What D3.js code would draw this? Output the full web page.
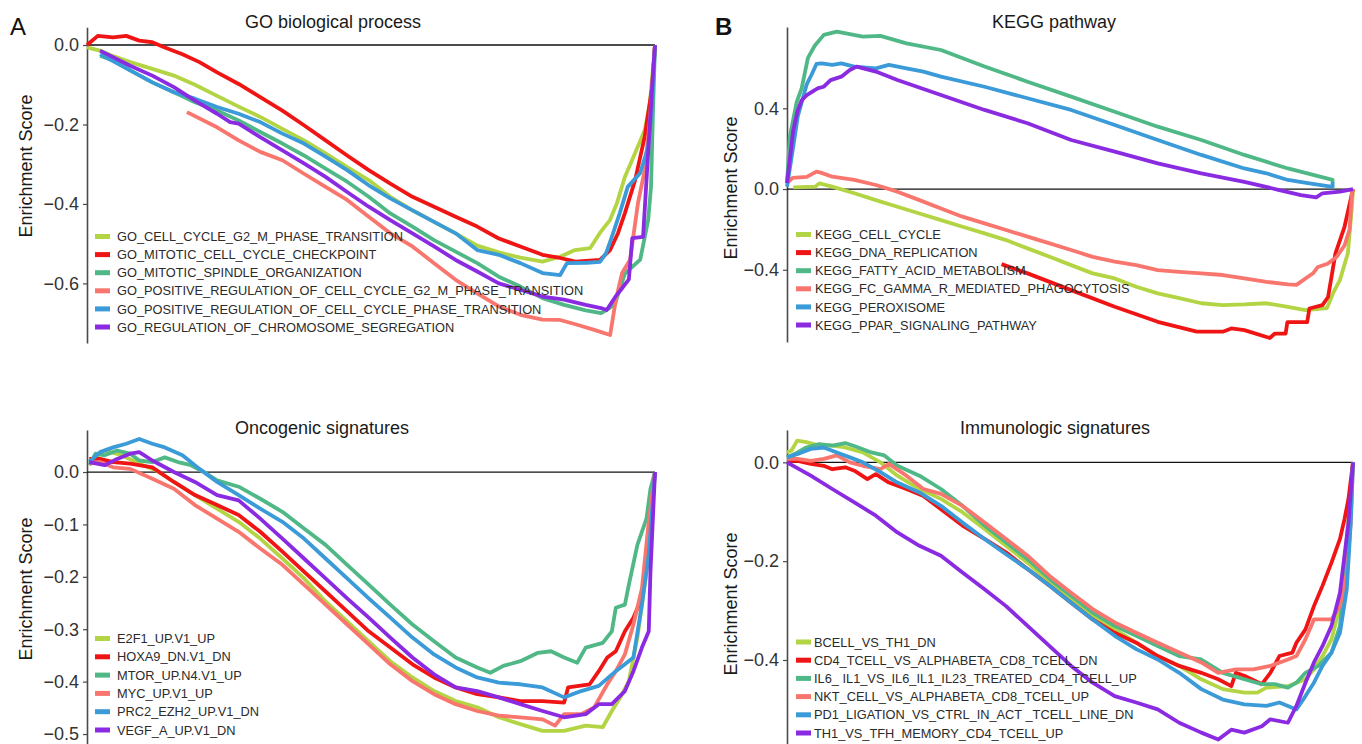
<!DOCTYPE html>
<html>
<head>
<meta charset="utf-8">
<script src="https://cdn.jsdelivr.net/npm/d3@7"></script>
<style>
  body { margin: 0; background: #fff; }
  svg text { font-family: "Liberation Sans", Arial, Helvetica, sans-serif; }
</style>
</head>
<body>
<div id="canvas"></div>
<script>
"use strict"

/* ---- data: [rank position (%), enrichment score] ---- */

// A: GO biological process
let goNames = ["GO_CELL_CYCLE_G2_M_PHASE_TRANSITION", "GO_MITOTIC_CELL_CYCLE_CHECKPOINT",
    "GO_MITOTIC_SPINDLE_ORGANIZATION", "GO_POSITIVE_REGULATION_OF_CELL_CYCLE_G2_M_PHASE_TRANSITION",
    "GO_POSITIVE_REGULATION_OF_CELL_CYCLE_PHASE_TRANSITION", "GO_REGULATION_OF_CHROMOSOME_SEGREGATION"];
let goG2M = [[0,-0.006],[2.3,-0.014],[4.6,-0.028],[7.6,-0.043],[11.5,-0.06],[15.3,-0.077],[19,-0.1],[22.9,-0.128],[26.7,-0.155],[30.5,-0.181],[34.4,-0.211],[38.2,-0.24],[42,-0.273],[45.8,-0.307],[49.6,-0.34],[53.4,-0.382],[57.3,-0.416],[61.1,-0.445],[64.9,-0.474],[68.7,-0.505],[72.5,-0.522],[76.3,-0.535],[80.2,-0.545],[83.3,-0.533],[85.9,-0.516],[88.6,-0.511],[90.3,-0.473],[92.1,-0.44],[93.3,-0.398],[94.7,-0.332],[96.5,-0.272],[98.2,-0.214],[99.1,-0.146],[100,0]];
let goCheckpoint = [[0,0],[1.9,0.023],[4.6,0.019],[6.9,0.023],[9.2,0.011],[11.5,0.007],[13.7,-0.006],[16.8,-0.023],[19.8,-0.043],[22.9,-0.069],[26.7,-0.098],[30.5,-0.131],[34.4,-0.165],[38.2,-0.202],[42,-0.24],[45.8,-0.278],[49.6,-0.315],[53.4,-0.349],[57.3,-0.382],[61.1,-0.407],[64.9,-0.432],[68.7,-0.457],[72.5,-0.487],[76.3,-0.507],[80.2,-0.528],[83.3,-0.536],[86,-0.545],[90.3,-0.541],[92.1,-0.516],[93.5,-0.473],[94.7,-0.423],[96.5,-0.34],[98.2,-0.23],[99.5,-0.105],[100,0]];
let goSpindle = [[2.3,-0.027],[4.6,-0.039],[7.6,-0.064],[11.5,-0.094],[15.3,-0.119],[19,-0.144],[22.9,-0.165],[26.7,-0.19],[30.5,-0.219],[34.4,-0.248],[38.2,-0.278],[42,-0.311],[45.8,-0.344],[49.6,-0.382],[53.4,-0.424],[57.3,-0.457],[61.1,-0.491],[64.9,-0.52],[68.7,-0.549],[72.5,-0.583],[76.3,-0.608],[80.2,-0.637],[84,-0.654],[87.8,-0.668],[90.5,-0.675],[92,-0.662],[93,-0.65],[94.7,-0.575],[97.4,-0.54],[98.8,-0.44],[99.3,-0.357],[99.6,-0.19],[100,0]];
let goPosG2M = [[17.6,-0.169],[22.9,-0.207],[26.7,-0.24],[30.5,-0.269],[34.4,-0.29],[38.2,-0.324],[42,-0.357],[45.8,-0.39],[49.6,-0.432],[53.4,-0.474],[57.3,-0.507],[61.1,-0.549],[64.9,-0.591],[68.7,-0.625],[72.5,-0.658],[76.3,-0.679],[80.2,-0.691],[83.3,-0.692],[86.3,-0.704],[89.3,-0.717],[92.1,-0.73],[93.1,-0.642],[94.2,-0.574],[95.6,-0.541],[97,-0.398],[98.2,-0.314],[99.1,-0.189],[100,0]];
let goPosPhase = [[2.3,-0.023],[7.6,-0.064],[11.5,-0.094],[15.3,-0.119],[19,-0.135],[22.9,-0.156],[26.7,-0.173],[30.5,-0.194],[34.4,-0.223],[38.2,-0.248],[42,-0.281],[45.8,-0.315],[49.6,-0.353],[53.4,-0.386],[57.3,-0.416],[61.1,-0.445],[64.9,-0.474],[68.7,-0.516],[72.5,-0.528],[76.3,-0.549],[80.2,-0.574],[83.3,-0.579],[84.5,-0.549],[88,-0.548],[90.3,-0.546],[91.4,-0.524],[92.4,-0.483],[93.8,-0.423],[95.2,-0.357],[97.4,-0.322],[98.8,-0.256],[99.5,-0.146],[100,0]];
let goChromSeg = [[2.3,-0.014],[7.6,-0.052],[11.5,-0.077],[15.3,-0.106],[19,-0.14],[22.9,-0.173],[25.2,-0.194],[26.7,-0.198],[30.5,-0.232],[34.4,-0.265],[38.2,-0.298],[42,-0.332],[45.8,-0.37],[49.6,-0.407],[53.4,-0.441],[57.3,-0.474],[61.1,-0.507],[64.9,-0.541],[68.7,-0.57],[72.5,-0.6],[76.3,-0.616],[80.2,-0.633],[84,-0.641],[87.8,-0.654],[90.5,-0.662],[91.5,-0.667],[93,-0.634],[94,-0.616],[95.4,-0.59],[96,-0.486],[97.9,-0.483],[98.8,-0.27],[99.5,-0.105],[100,0]];

// B: KEGG pathway
let keggNames = ["KEGG_CELL_CYCLE", "KEGG_DNA_REPLICATION", "KEGG_FATTY_ACID_METABOLISM",
    "KEGG_FC_GAMMA_R_MEDIATED_PHAGOCYTOSIS", "KEGG_PEROXISOME", "KEGG_PPAR_SIGNALING_PATHWAY"];
let keggCellCycle = [[1.1,0.008],[5,0.012],[5.7,0.028],[8,0.012],[11.9,-0.021],[15.7,-0.055],[19.5,-0.088],[23.4,-0.121],[27.2,-0.154],[31,-0.187],[34.9,-0.22],[38.7,-0.253],[42.5,-0.294],[46.4,-0.336],[50.2,-0.377],[54,-0.418],[57.9,-0.443],[61.7,-0.484],[65.5,-0.517],[69.3,-0.541],[73.2,-0.566],[77,-0.575],[80.8,-0.572],[84.7,-0.566],[88.5,-0.584],[91.6,-0.6],[95.4,-0.59],[96.5,-0.515],[97.7,-0.45],[99.1,-0.317],[99.8,-0.09],[100,0]];
let keggDnaRep = [[37.9,-0.372],[42.5,-0.418],[50.2,-0.501],[57.9,-0.583],[65.5,-0.658],[72.4,-0.707],[77,-0.707],[78.5,-0.691],[80.8,-0.699],[85.3,-0.738],[86.2,-0.716],[88.1,-0.716],[88.4,-0.66],[91.9,-0.66],[92.3,-0.592],[94.6,-0.575],[95.6,-0.535],[96.2,-0.435],[96.9,-0.319],[98.5,-0.187],[99.2,-0.1],[100,0]];
let keggFatty = [[0,0.03],[0.5,0.26],[1.7,0.43],[2.6,0.5],[3.7,0.65],[4.9,0.71],[6.5,0.764],[8.8,0.78],[13.4,0.755],[16.5,0.759],[21.1,0.722],[27.2,0.689],[34.9,0.607],[42.5,0.532],[50.2,0.458],[57.9,0.383],[65.5,0.309],[73.2,0.243],[80.8,0.169],[88.5,0.102],[96.4,0.045],[96.4,0.035]];
let keggFcGamma = [[0,0.03],[1,0.055],[3.5,0.06],[5.2,0.086],[6.1,0.08],[8,0.061],[11.9,0.045],[15.7,0.02],[19.5,-0.013],[23.4,-0.055],[27.2,-0.096],[31,-0.137],[34.9,-0.17],[38.7,-0.203],[42.5,-0.236],[46.4,-0.269],[50.2,-0.302],[54,-0.336],[57.9,-0.36],[61.7,-0.377],[65.5,-0.402],[69.3,-0.41],[73.2,-0.418],[77,-0.426],[80.8,-0.443],[84.7,-0.46],[88.5,-0.472],[90,-0.475],[93,-0.416],[93.8,-0.386],[95.5,-0.37],[97.1,-0.337],[98.5,-0.28],[99.4,-0.2],[99.8,-0.02],[100,0]];
let keggPerox = [[0,0.012],[1.1,0.21],[1.9,0.36],[2.6,0.43],[3.5,0.52],[4.4,0.57],[5.2,0.62],[6.1,0.623],[8,0.615],[9.6,0.623],[11.9,0.607],[15.7,0.598],[18,0.615],[21.1,0.598],[24.1,0.582],[27.2,0.557],[34.9,0.507],[42.5,0.45],[50.2,0.392],[57.9,0.317],[65.5,0.243],[73.2,0.169],[80.8,0.102],[84.7,0.078],[88.5,0.045],[92.3,0.028],[96.4,0.011],[96.4,0.035]];
let keggPpar = [[0,0.03],[1.1,0.29],[1.9,0.39],[2.6,0.44],[3.5,0.465],[4.9,0.49],[5.5,0.5],[6.5,0.507],[7.7,0.54],[9.6,0.557],[11.1,0.59],[12.3,0.607],[15.7,0.582],[19.5,0.54],[27.2,0.466],[34.9,0.392],[42.5,0.326],[50.2,0.243],[57.9,0.185],[65.5,0.127],[73.2,0.078],[80.8,0.036],[87,-0.005],[90.8,-0.03],[93.5,-0.041],[94.6,-0.021],[97.7,-0.013],[100,0]];

// C: Oncogenic signatures
let oncoNames = ["E2F1_UP.V1_UP", "HOXA9_DN.V1_DN", "MTOR_UP.N4.V1_UP", "MYC_UP.V1_UP",
    "PRC2_EZH2_UP.V1_DN", "VEGF_A_UP.V1_DN"];
let e2f1 = [[0.4,0.019],[3.1,0.041],[6.1,0.032],[9.2,0.016],[12.2,0.003],[15.3,-0.019],[19,-0.044],[22.9,-0.07],[26.7,-0.095],[30.5,-0.127],[34.4,-0.165],[38.2,-0.203],[42,-0.247],[45.8,-0.285],[49.6,-0.323],[53.4,-0.361],[57.3,-0.392],[61.1,-0.418],[64.9,-0.437],[68.7,-0.449],[72.5,-0.468],[76.3,-0.481],[80.2,-0.494],[84,-0.494],[87.8,-0.484],[90.8,-0.487],[92.4,-0.456],[93.9,-0.43],[95.4,-0.399],[96.9,-0.316],[98.5,-0.19],[99.2,-0.095],[100,0]];
let hoxa9 = [[0.4,0.025],[2.3,0.025],[4.6,0.019],[7.6,0.016],[11.5,0.009],[15.3,-0.019],[19,-0.044],[22.9,-0.063],[26.7,-0.082],[30.5,-0.114],[34.4,-0.152],[38.2,-0.19],[42,-0.228],[45.8,-0.266],[49.6,-0.304],[53.4,-0.335],[57.3,-0.367],[61.1,-0.392],[64.9,-0.411],[68.7,-0.424],[72.5,-0.43],[76.3,-0.437],[80.2,-0.437],[84,-0.44],[84.7,-0.411],[88.5,-0.405],[90.1,-0.38],[91.6,-0.354],[93.1,-0.342],[94.7,-0.304],[96.2,-0.278],[97.7,-0.24],[98.5,-0.177],[99.2,-0.063],[100,0]];
let mtor = [[0.4,0.013],[1.5,0.035],[3.1,0.032],[5.3,0.041],[7.6,0.035],[9.2,0.022],[11.5,0.019],[13.7,0.028],[16,0.019],[18.3,0.013],[20.6,0],[22.9,-0.016],[26.7,-0.028],[30.5,-0.051],[34.4,-0.076],[38.2,-0.108],[42,-0.139],[45.8,-0.177],[49.6,-0.215],[53.4,-0.253],[57.3,-0.291],[61.1,-0.323],[64.9,-0.354],[68.7,-0.373],[71,-0.383],[73.3,-0.37],[76.3,-0.361],[79.4,-0.345],[81.7,-0.342],[84,-0.354],[86.3,-0.364],[87.8,-0.335],[90.8,-0.326],[92.4,-0.304],[93.1,-0.259],[94.7,-0.253],[95.4,-0.215],[96.9,-0.139],[98.5,-0.089],[99.2,-0.032],[100,0]];
let myc = [[0.4,0.016],[2.3,0.019],[4.6,0.009],[7.6,0.006],[11.5,-0.013],[15.3,-0.032],[19,-0.063],[22.9,-0.089],[26.7,-0.114],[30.5,-0.146],[34.4,-0.177],[38.2,-0.215],[42,-0.253],[45.8,-0.291],[49.6,-0.329],[53.4,-0.367],[57.3,-0.399],[61.1,-0.424],[64.9,-0.443],[68.7,-0.456],[72.5,-0.465],[76.3,-0.468],[80.2,-0.472],[82.4,-0.484],[84,-0.462],[87,-0.462],[89.3,-0.449],[91.6,-0.405],[93.1,-0.38],[94.7,-0.348],[96.2,-0.291],[97.7,-0.222],[98.9,-0.095],[100,0]];
let prc2 = [[0.4,0.019],[2.3,0.038],[4.6,0.047],[6.9,0.054],[9.2,0.063],[11.5,0.054],[13.7,0.047],[16.8,0.032],[19.8,0.006],[22.9,-0.019],[26.7,-0.044],[30.5,-0.07],[34.4,-0.095],[38.2,-0.127],[42,-0.165],[45.8,-0.203],[49.6,-0.241],[53.4,-0.278],[57.3,-0.316],[61.1,-0.348],[64.9,-0.373],[68.7,-0.392],[72.5,-0.402],[76.3,-0.405],[80.2,-0.411],[84,-0.43],[87,-0.418],[90.1,-0.408],[93.1,-0.38],[94.7,-0.367],[96.2,-0.354],[97.7,-0.253],[98.9,-0.158],[100,0]];
let vegfa = [[0.4,0.019],[3.1,0.013],[5.3,0.025],[7.6,0.035],[9.2,0.038],[11.5,0.022],[15.3,0],[19,-0.019],[22.9,-0.044],[26.7,-0.054],[30.5,-0.089],[34.4,-0.127],[38.2,-0.165],[42,-0.203],[45.8,-0.241],[49.6,-0.278],[53.4,-0.316],[57.3,-0.354],[61.1,-0.386],[64.9,-0.411],[68.7,-0.418],[72.5,-0.43],[76.3,-0.443],[80.2,-0.456],[84,-0.468],[87.8,-0.462],[90.1,-0.443],[92.4,-0.443],[94.7,-0.418],[96.2,-0.38],[97.7,-0.335],[98.9,-0.304],[99.2,-0.19],[100,0]];

// D: Immunologic signatures
let immunoNames = ["BCELL_VS_TH1_DN", "CD4_TCELL_VS_ALPHABETA_CD8_TCELL_DN",
    "IL6_ IL1_VS_IL6_IL1_IL23_TREATED_CD4_TCELL_UP", "NKT_CELL_VS_ALPHABETA_CD8_TCELL_UP",
    "PD1_LIGATION_VS_CTRL_IN_ACT _TCELL_LINE_DN", "TH1_VS_TFH_MEMORY_CD4_TCELL_UP"];
let bcellTh1 = [[0,0.02],[0.8,0.024],[1.8,0.044],[3.4,0.041],[5.7,0.034],[8,0.034],[10.3,0.03],[13.4,0.02],[16.5,0],[19.5,-0.027],[23.4,-0.054],[27.2,-0.074],[31,-0.101],[34.9,-0.135],[38.7,-0.169],[42.5,-0.203],[46.4,-0.243],[50.2,-0.277],[54,-0.311],[57.9,-0.338],[61.7,-0.365],[65.5,-0.392],[69.3,-0.412],[73.2,-0.439],[77,-0.459],[80.8,-0.466],[83.1,-0.466],[84.7,-0.456],[88.5,-0.453],[91.6,-0.439],[93.1,-0.419],[94.6,-0.392],[96.2,-0.358],[97.7,-0.291],[98.9,-0.155],[100,0]];
let cd4Cd8 = [[0,0.003],[1.9,0.003],[4.2,-0.003],[6.5,-0.007],[8,-0.014],[10.3,-0.01],[11.9,-0.017],[14.2,-0.034],[15.7,-0.024],[18,-0.041],[21.1,-0.054],[24.1,-0.068],[27.2,-0.095],[31,-0.128],[34.9,-0.155],[38.7,-0.182],[42.5,-0.216],[46.4,-0.25],[50.2,-0.284],[54,-0.318],[57.9,-0.345],[61.7,-0.365],[65.5,-0.392],[69.3,-0.412],[73.2,-0.426],[76.2,-0.439],[78.5,-0.453],[79.3,-0.426],[80.8,-0.432],[83.9,-0.449],[85.4,-0.426],[87,-0.392],[89.3,-0.385],[90,-0.365],[91.6,-0.338],[93.1,-0.291],[94.6,-0.25],[96.2,-0.203],[97.7,-0.155],[98.5,-0.115],[99.2,-0.074],[100,0]];
let il6Il23 = [[0,0.01],[1.9,0.02],[3.4,0.03],[5.7,0.037],[8,0.034],[10.3,0.039],[12.6,0.03],[14.9,0.02],[17.2,0.014],[19.5,-0.007],[23.4,-0.027],[27.2,-0.054],[31,-0.088],[34.9,-0.128],[38.7,-0.162],[42.5,-0.196],[46.4,-0.236],[50.2,-0.27],[54,-0.304],[57.9,-0.331],[61.7,-0.351],[65.5,-0.372],[69.3,-0.392],[73.2,-0.399],[77,-0.426],[80.8,-0.439],[83.9,-0.449],[86.2,-0.449],[88.5,-0.456],[90,-0.446],[91.6,-0.426],[93.9,-0.412],[96.2,-0.385],[97.7,-0.331],[99.2,-0.155],[100,0]];
let nktCd8 = [[0,0.007],[1.9,0.007],[4.2,0.003],[6.5,0.007],[8.8,0.014],[11.1,0],[13.4,-0.007],[16.5,-0.014],[18,-0.003],[21.1,-0.027],[24.1,-0.054],[27.2,-0.064],[31,-0.088],[34.9,-0.122],[38.7,-0.155],[42.5,-0.189],[46.4,-0.23],[50.2,-0.264],[54,-0.297],[57.9,-0.324],[61.7,-0.345],[65.5,-0.365],[69.3,-0.385],[73.2,-0.405],[76.2,-0.426],[79.3,-0.419],[82.4,-0.419],[85.4,-0.412],[88.5,-0.399],[90,-0.392],[91.6,-0.358],[93.1,-0.318],[96.2,-0.318],[97.7,-0.291],[98.9,-0.223],[99.6,-0.122],[100,0]];
let pd1Ligation = [[0,0.01],[1.9,0.017],[4.2,0.027],[6.5,0.03],[8.8,0.02],[11.1,0.01],[13.4,0],[16.5,-0.02],[19.5,-0.041],[23.4,-0.061],[27.2,-0.088],[31,-0.122],[34.9,-0.155],[38.7,-0.186],[42.5,-0.216],[46.4,-0.25],[50.2,-0.284],[54,-0.318],[57.9,-0.351],[61.7,-0.378],[65.5,-0.399],[69.3,-0.426],[73.2,-0.459],[77,-0.48],[80.8,-0.49],[84.7,-0.493],[87,-0.486],[90,-0.5],[91.6,-0.473],[93.1,-0.446],[94.6,-0.412],[96.2,-0.385],[97.7,-0.345],[98.9,-0.257],[99.6,-0.122],[100,0]];
let th1Tfh = [[0,0],[4.2,-0.027],[8,-0.054],[11.9,-0.081],[15.7,-0.108],[19.5,-0.142],[23.4,-0.169],[27.2,-0.189],[31,-0.223],[34.9,-0.257],[38.7,-0.291],[42.5,-0.331],[46.4,-0.372],[50.2,-0.412],[54,-0.446],[57.9,-0.473],[61.7,-0.486],[65.5,-0.5],[69.3,-0.527],[73.2,-0.547],[76.2,-0.561],[78.5,-0.541],[80.8,-0.547],[83.9,-0.534],[85.4,-0.52],[88.5,-0.527],[90,-0.493],[91.6,-0.446],[93.1,-0.405],[94.6,-0.372],[96.2,-0.331],[97.7,-0.264],[99.2,-0.122],[100,0]];

let seriesColors = ["#b3d443", "#f01515", "#4fb886", "#f8766d", "#3b9ad8", "#8a2be2"];

/* ---- layout ---- */
let svgWidth = 1362;
let svgHeight = 744;

let panels = [
    { letter: "A", letterX: 10, letterBold: false, title: "GO biological process", titleX: 333, titleY: 28,
      left: 87, right: 655, top: 27.3, bottom: 343, yDomain: [-0.75, 0.0446], ticks: [0, -0.2, -0.4, -0.6],
      labelX: 26, labelY: 166, legendX: 95, textX: 117, legendY: 236.5, legendStep: 18.1,
      names: goNames, series: [goG2M, goCheckpoint, goSpindle, goPosG2M, goPosPhase, goChromSeg] },
    { letter: "B", letterX: 715, letterBold: true, title: "KEGG pathway", titleX: 1054, titleY: 28,
      left: 787, right: 1353, top: 27, bottom: 342, yDomain: [-0.758, 0.803], ticks: [-0.4, 0, 0.4],
      labelX: 731, labelY: 188, legendX: 796, textX: 815, legendY: 234.5, legendStep: 18.1,
      names: keggNames, series: [keggCellCycle, keggDnaRep, keggFatty, keggFcGamma, keggPerox, keggPpar] },
    { letter: null, title: "Oncogenic signatures", titleX: 322, titleY: 434,
      left: 87, right: 655, top: 430, bottom: 744, yDomain: [-0.519, 0.0802], ticks: [0, -0.1, -0.2, -0.3, -0.4, -0.5],
      labelX: 26, labelY: 589, legendX: 95, textX: 117, legendY: 638.5, legendStep: 18.3,
      names: oncoNames, series: [e2f1, hoxa9, mtor, myc, prc2, vegfa] },
    { letter: null, title: "Immunologic signatures", titleX: 1055, titleY: 434,
      left: 787, right: 1353, top: 430, bottom: 744, yDomain: [-0.57, 0.0654], ticks: [0, -0.2, -0.4],
      labelX: 731, labelY: 604, legendX: 796, textX: 814, legendY: 642, legendStep: 18.2,
      names: immunoNames, series: [bcellTh1, cd4Cd8, il6Il23, nktCd8, pd1Ligation, th1Tfh] }
];

let svg = d3.select("#canvas")
    .append("svg")
    .attr("width", svgWidth)
    .attr("height", svgHeight);

svg.append("rect")
    .attr("width", svgWidth)
    .attr("height", svgHeight)
    .attr("fill", "#ffffff");

for (let p = 0; p < panels.length; p++) {
    drawPanel(panels[p]);
}

function drawPanel(cfg) {
    let g = svg.append("g");

    let xScale = d3.scaleLinear()
        .domain([0, 100])
        .range([cfg.left, cfg.right]);

    let yScale = d3.scaleLinear()
        .domain(cfg.yDomain)
        .range([cfg.bottom, cfg.top]);

    // y axis
    let yAxis = d3.axisLeft(yScale)
        .tickValues(cfg.ticks)
        .tickSize(4)
        .tickSizeOuter(0)
        .tickPadding(4)
        .tickFormat(d3.format(".1f"));

    let axisG = g.append("g")
        .attr("transform", "translate(" + cfg.left + ",0)")
        .call(yAxis);
    axisG.select(".domain").attr("stroke", "#4a4a4a").attr("stroke-width", 1.6);
    axisG.selectAll(".tick line").attr("stroke", "#4a4a4a").attr("stroke-width", 1.2);
    axisG.selectAll(".tick text")
        .attr("fill", "#333333")
        .style("font-size", "18px")
        .style("font-family", "'Liberation Sans', Arial, sans-serif");

    // zero line
    g.append("line")
        .attr("x1", xScale(0))
        .attr("x2", xScale(100))
        .attr("y1", yScale(0))
        .attr("y2", yScale(0))
        .attr("stroke", "#111111")
        .attr("stroke-width", 1.3);

    // curves
    let line = d3.line()
        .x(function(d) { return xScale(d[0]); })
        .y(function(d) { return yScale(d[1]); });

    for (let i = 0; i < cfg.series.length; i++) {
        g.append("path")
            .datum(cfg.series[i])
            .attr("d", line)
            .attr("fill", "none")
            .attr("stroke", seriesColors[i])
            .attr("stroke-width", 3.8)
            .attr("stroke-linejoin", "round");
    }

    // legend
    for (let i = 0; i < cfg.names.length; i++) {
        let itemY = cfg.legendY + i * cfg.legendStep;
        g.append("rect")
            .attr("x", cfg.legendX)
            .attr("y", itemY - 2.5)
            .attr("width", 15)
            .attr("height", 5)
            .attr("fill", seriesColors[i]);
        g.append("text")
            .attr("x", cfg.textX)
            .attr("y", itemY)
            .attr("dy", "0.36em")
            .attr("fill", "#2b2b2b")
            .style("font-size", "12.8px")
            .text(cfg.names[i]);
    }

    // title
    g.append("text")
        .attr("x", cfg.titleX)
        .attr("y", cfg.titleY)
        .attr("text-anchor", "middle")
        .attr("fill", "#1a1a1a")
        .style("font-size", "18px")
        .text(cfg.title);

    // y label
    g.append("text")
        .attr("transform", "translate(" + cfg.labelX + "," + cfg.labelY + ") rotate(-90)")
        .attr("text-anchor", "middle")
        .attr("dy", "0.36em")
        .attr("fill", "#1a1a1a")
        .style("font-size", "18px")
        .text("Enrichment Score");

    // panel letter
    if (cfg.letter) {
        svg.append("text")
            .attr("x", cfg.letterX)
            .attr("y", 35)
            .attr("fill", "#111111")
            .attr("font-weight", cfg.letterBold ? "bold" : "normal")
            .style("font-size", "24px")
            .text(cfg.letter);
    }
}
</script>
</body>
</html>
